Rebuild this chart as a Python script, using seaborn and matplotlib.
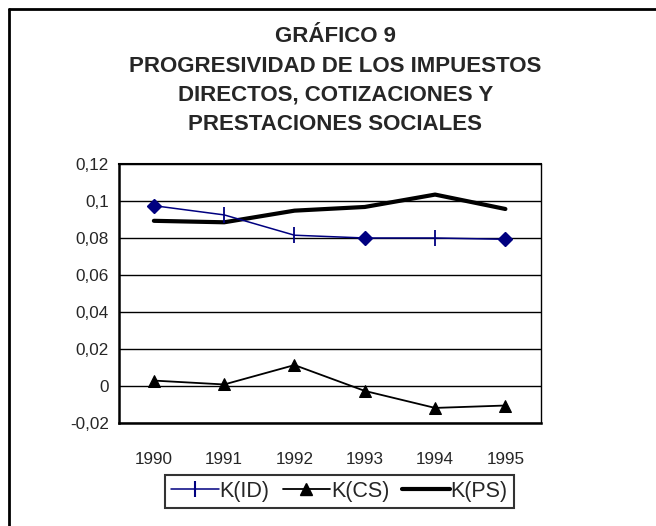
import numpy as np
import pandas as pd
import matplotlib
matplotlib.use("Agg")
import matplotlib.pyplot as plt
from matplotlib.lines import Line2D
import seaborn as sns

# data
years = [1990, 1991, 1992, 1993, 1994, 1995]
k_id = [0.0975, 0.0925, 0.0815, 0.080, 0.080, 0.0793]
k_cs = [0.0028, 0.0007, 0.0112, -0.0028, -0.0120, -0.0107]
k_ps = [0.0893, 0.0885, 0.0948, 0.0968, 0.1035, 0.0957]
y_ticks = [-0.02, 0, 0.02, 0.04, 0.06, 0.08, 0.1, 0.12]
title_lines = ["GRÁFICO 9",
               "PROGRESIVIDAD DE LOS IMPUESTOS",
               "DIRECTOS, COTIZACIONES Y",
               "PRESTACIONES SOCIALES"]
legend_labels = ["K(ID)", "K(CS)", "K(PS)"]
# Excel drew K(ID) with mixed marker shapes
id_markers = ["D", "|", "|", "D", "|", "D"]

sns.set_style("white")
plt.rcParams["font.family"] = ["Liberation Sans", "DejaVu Sans"]

navy = "#000080"

fig = plt.figure(figsize=(6.56, 5.26), dpi=100)
ax = fig.add_axes([0.181, 0.1964, 0.643, 0.4916])

df = pd.DataFrame({"year": years, "K(ID)": k_id, "K(CS)": k_cs, "K(PS)": k_ps})

sns.lineplot(data=df, x="year", y="K(PS)", ax=ax, color="black", linewidth=3.0)
sns.lineplot(data=df, x="year", y="K(CS)", ax=ax, color="black", linewidth=1.3,
             marker="^", markersize=9, markeredgecolor="black", markerfacecolor="black")
sns.lineplot(data=df, x="year", y="K(ID)", ax=ax, color=navy, linewidth=1.1)
for m in set(id_markers):
    sub = df[[mk == m for mk in id_markers]]
    if m == "D":
        ax.plot(sub["year"], sub["K(ID)"], linestyle="none", marker="D", markersize=7,
                color=navy, markeredgecolor=navy)
    else:
        ax.plot(sub["year"], sub["K(ID)"], linestyle="none", marker="|", markersize=11,
                markeredgewidth=1.3, color=navy)

ax.set_xlim(years[0] - 0.5, years[-1] + 0.5)
ax.set_ylim(y_ticks[0], y_ticks[-1])
ax.set_yticks(y_ticks)
ax.set_yticklabels([("%g" % round(v, 2)).replace(".", ",") for v in y_ticks])
ax.set_xticks([y - 0.5 for y in years] + [years[-1] + 0.5])
ax.set_xticklabels([])
ax.set_xticks(years, minor=True)
ax.set_xticklabels([str(y) for y in years], minor=True)
ax.tick_params(axis="x", which="major", direction="out", length=6, width=1.2, color="black")
ax.tick_params(axis="x", which="minor", length=0, pad=21, labelsize=12.3)
ax.tick_params(axis="y", direction="out", length=5, width=1.2, color="black", labelsize=12.3, pad=2)
ax.yaxis.grid(True, color="black", linewidth=1)
ax.xaxis.grid(False)
ax.set_xlabel("")
ax.set_ylabel("")
for s in ax.spines.values():
    s.set_color("black")
    s.set_linewidth(1)
ax.spines["left"].set_linewidth(1.8)
ax.spines["bottom"].set_linewidth(1.8)
ax.spines["top"].set_linewidth(1.5)

# title
ty = [0.920, 0.864, 0.809, 0.753]
for t, y in zip(title_lines, ty):
    fig.text(0.511, y, t, ha="center", va="baseline", fontsize=16, fontweight="bold")

handles = [Line2D([], [], color=navy, linewidth=1.1, marker="|", markersize=12, markeredgewidth=1.5),
           Line2D([], [], color="black", linewidth=1.3, marker="^", markersize=9),
           Line2D([], [], color="black", linewidth=3.0)]
leg = fig.legend(handles, legend_labels, loc="center", bbox_to_anchor=(0.5175, 0.0656),
                 ncol=3, frameon=True, fancybox=False, edgecolor="black", fontsize=15.5,
                 handlelength=2.2, handletextpad=0.05, columnspacing=0.6, borderpad=0.3,
                 borderaxespad=0)
leg.get_frame().set_linewidth(1.5)

# outer chart border (only top and left are visible in the crop)
fig.add_artist(Line2D([0.0137, 1.0], [0.9826, 0.9826], transform=fig.transFigure,
                      color="black", linewidth=2))
fig.add_artist(Line2D([0.0137, 0.0137], [0.0, 0.9826], transform=fig.transFigure,
                      color="black", linewidth=2))

fig.savefig("out.png", dpi=100)
